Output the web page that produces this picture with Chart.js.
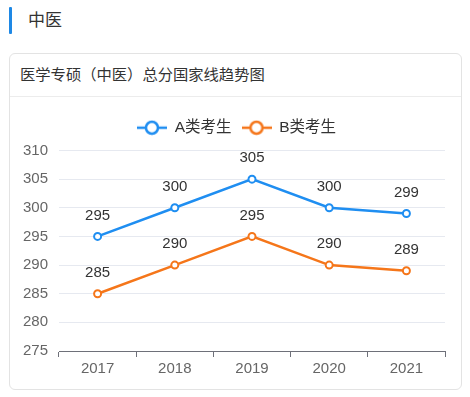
<!DOCTYPE html>
<html>
<head>
<meta charset="utf-8">
<script src="https://cdn.jsdelivr.net/npm/chart.js@4"></script>
<style>
  body { margin: 0; background: #fff; width: 470px; height: 397px; position: relative; overflow: hidden;
         font-family: "Liberation Sans", "Noto Sans CJK SC", sans-serif; }
  .head-bar { position: absolute; left: 9px; top: 7px; width: 3px; height: 27px; background: #1e88e5; border-radius: 1px; }
  .head { position: absolute; left: 28px; top: 9px; font-size: 17px; color: #333; line-height: 24px; }
  .card { position: absolute; left: 9px; top: 53px; width: 453px; height: 337px; border: 1px solid #e3e3e3; border-radius: 6px; box-sizing: border-box; }
  .card-title { position: absolute; left: 20px; top: 64px; font-size: 15.3px; color: #333; line-height: 22px; }
  .sep { position: absolute; left: 10px; top: 96px; width: 451px; height: 1px; background: #ececec; }
  .chart-box { position: absolute; left: 0; top: 97px; width: 470px; height: 284px; }
</style>
</head>
<body>
<div class="head-bar"></div>
<div class="head">中医</div>
<div class="card"></div>
<div class="card-title">医学专硕（中医）总分国家线趋势图</div>
<div class="sep"></div>
<div class="chart-box"><canvas id="c"></canvas></div>
<script>
const years = ['2017', '2018', '2019', '2020', '2021']
const scoresA = [295, 300, 305, 300, 299]
const scoresB = [285, 290, 295, 290, 289]
const yTicks = [275, 280, 285, 290, 295, 300, 305, 310]

const blue = '#1f8ef1'
const orange = '#f5761a'
const font = '"Liberation Sans", "Noto Sans CJK SC", sans-serif'

function legendIcon(color) {
  let cv = document.createElement('canvas')
  cv.width = 30
  cv.height = 16
  let c = cv.getContext('2d')
  c.strokeStyle = color
  c.lineWidth = 2.5
  c.beginPath()
  c.moveTo(0, 8); c.lineTo(30, 8)
  c.stroke()
  c.fillStyle = '#fff'
  c.beginPath()
  c.arc(15, 8, 6, 0, Math.PI * 2)
  c.fill()
  c.stroke()
  return cv
}

// draws value labels above each point
const valueLabels = {
  id: 'valueLabels',
  afterDatasetsDraw(chart) {
    let ctx = chart.ctx
    ctx.save()
    ctx.font = '15px ' + font
    ctx.fillStyle = '#333'
    ctx.textAlign = 'center'
    ctx.textBaseline = 'middle'
    chart.data.datasets.forEach((ds, i) => {
      chart.getDatasetMeta(i).data.forEach((pt, j) => {
        ctx.fillText(String(ds.data[j]), pt.x, pt.y - 21)
      })
    })
    ctx.restore()
  }
}

// more room under the legend, and center it on the whole width
const legendGap = {
  id: 'legendGap',
  beforeLayout(chart) {
    let lg = chart.legend
    if (!lg || lg._gapped) return
    let fit = lg.fit.bind(lg)
    lg.fit = function() { fit(); this.height += 5 }
    lg._gapped = true
  },
  afterLayout(chart) {
    let lg = chart.legend
    lg.left += 14
    lg.right += 14
  }
}

let icons = [legendIcon(blue), legendIcon(orange)]

new Chart(document.getElementById('c').getContext('2d'), {
  type: 'line',
  data: {
    labels: years,
    datasets: [{
      label: 'A类考生',
      data: scoresA,
      borderColor: blue,
      backgroundColor: '#fff',
      borderWidth: 2.5,
      pointRadius: 3.5,
      pointBorderWidth: 2,
      pointBackgroundColor: '#fff',
      tension: 0
    },
    {
      label: 'B类考生',
      data: scoresB,
      borderColor: orange,
      backgroundColor: '#fff',
      borderWidth: 2.5,
      pointRadius: 3.5,
      pointBorderWidth: 2,
      pointBackgroundColor: '#fff',
      tension: 0
    }]
  },
  options: {
    responsive: true,
    maintainAspectRatio: false,
    animation: false,
    layout: { padding: { top: 13, right: 25, left: 0, bottom: 0 } },
    plugins: {
      tooltip: { enabled: false },
      legend: {
        position: 'top',
        labels: {
          usePointStyle: true,
          pointStyleWidth: 30,
          padding: 10,
          color: '#333',
          font: { size: 15.5, family: font },
          generateLabels(chart) {
            let items = Chart.defaults.plugins.legend.labels.generateLabels(chart)
            items.forEach((it, i) => { it.pointStyle = icons[i] })
            return items
          }
        }
      }
    },
    scales: {
      x: {
        offset: true,
        grid: { offset: true, drawOnChartArea: false, drawTicks: true, tickLength: 6, color: '#6e7079' },
        border: { color: '#6e7079', width: 1 },
        ticks: { color: '#666', font: { size: 15, family: font }, padding: 3 },
        afterFit(scale) { scale.height = 30 }
      },
      y: {
        min: 275,
        max: 310,
        afterBuildTicks(scale) { scale.ticks = yTicks.map(v => ({ value: v })) },
        grid: { color: '#e6e9f0', drawTicks: false },
        border: { display: false },
        ticks: { color: '#666', font: { size: 15, family: font }, padding: 11 },
        afterFit(scale) { scale.width = 59 }
      }
    }
  },
  plugins: [valueLabels, legendGap]
})
</script>
</body>
</html>
